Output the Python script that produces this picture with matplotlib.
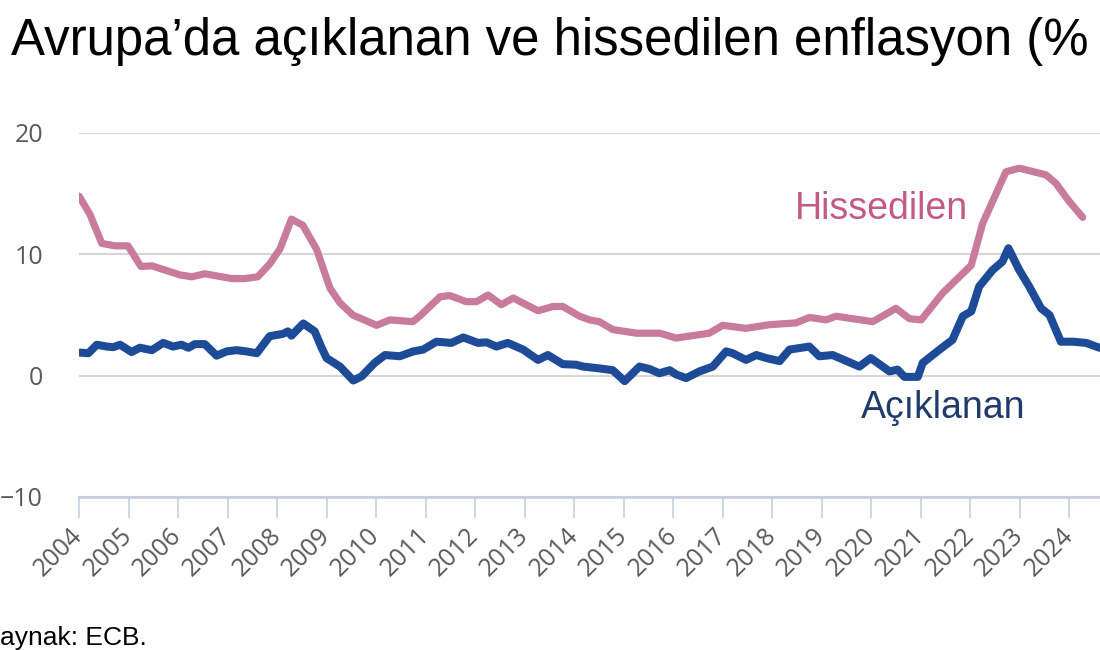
import matplotlib
matplotlib.use("Agg")
import matplotlib.pyplot as plt

# Perceived inflation (Hissedilen), decimal year / %
perc_t = [2004.00, 2004.22, 2004.46, 2004.73, 2004.99, 2005.25, 2005.47, 2005.74, 2006.04, 2006.28,
          2006.54, 2006.81, 2007.09, 2007.35, 2007.61, 2007.85, 2008.06, 2008.29, 2008.52, 2008.80,
          2009.07, 2009.27, 2009.53, 2010.01, 2010.28, 2010.74, 2010.88, 2011.29, 2011.49, 2011.82,
          2012.03, 2012.26, 2012.53, 2012.77, 2013.27, 2013.57, 2013.77, 2014.11, 2014.31, 2014.51,
          2014.78, 2015.26, 2015.73, 2016.06, 2016.73, 2017.00, 2017.47, 2017.94, 2018.48, 2018.75,
          2019.09, 2019.29, 2020.03, 2020.50, 2020.77, 2021.01, 2021.44, 2022.02, 2022.25, 2022.72,
          2022.99, 2023.53, 2023.73, 2024.00, 2024.27]
perc_v = [14.8, 13.3, 10.9, 10.7, 10.7, 9.0, 9.05, 8.7, 8.3, 8.15,
          8.4, 8.2, 8.0, 8.0, 8.15, 9.2, 10.45, 12.9, 12.4, 10.4,
          7.2, 6.0, 5.0, 4.15, 4.6, 4.45, 4.9, 6.5, 6.6, 6.1,
          6.1, 6.65, 5.85, 6.4, 5.35, 5.7, 5.7, 4.9, 4.6, 4.45,
          3.8, 3.5, 3.5, 3.1, 3.5, 4.15, 3.9, 4.2, 4.35, 4.8,
          4.6, 4.9, 4.45, 5.55, 4.7, 4.6, 6.8, 9.1, 12.55, 16.8,
          17.1, 16.55, 15.85, 14.35, 13.05]

# Official inflation (Açıklanan), decimal year / %
off_t = [2004.02, 2004.19, 2004.36, 2004.56, 2004.69, 2004.83, 2005.06, 2005.23, 2005.47, 2005.70,
         2005.90, 2006.07, 2006.21, 2006.34, 2006.54, 2006.78, 2006.98, 2007.18, 2007.38, 2007.59,
         2007.85, 2008.12, 2008.22, 2008.29, 2008.53, 2008.76, 2008.90, 2009.00, 2009.27, 2009.54,
         2009.71, 2009.97, 2010.18, 2010.48, 2010.75, 2010.95, 2011.22, 2011.52, 2011.76, 2012.06,
         2012.23, 2012.43, 2012.66, 2012.97, 2013.27, 2013.47, 2013.77, 2014.04, 2014.18, 2014.51,
         2014.78, 2015.02, 2015.32, 2015.52, 2015.72, 2015.93, 2016.06, 2016.26, 2016.53, 2016.80,
         2017.07, 2017.20, 2017.47, 2017.68, 2017.88, 2018.15, 2018.35, 2018.75, 2018.95, 2019.22,
         2019.76, 2019.99, 2020.37, 2020.53, 2020.67, 2020.94, 2021.04, 2021.38, 2021.64, 2021.85,
         2022.02, 2022.18, 2022.45, 2022.65, 2022.77, 2022.99, 2023.19, 2023.43, 2023.60, 2023.83,
         2024.07, 2024.34, 2024.61]
off_v = [1.9, 1.85, 2.55, 2.4, 2.35, 2.55, 1.95, 2.3, 2.1, 2.7,
         2.4, 2.55, 2.3, 2.6, 2.6, 1.65, 2.0, 2.1, 2.0, 1.85,
         3.25, 3.45, 3.65, 3.3, 4.3, 3.65, 2.3, 1.45, 0.75, -0.4,
         -0.05, 1.05, 1.7, 1.6, 2.0, 2.15, 2.8, 2.7, 3.15, 2.7,
         2.75, 2.4, 2.7, 2.15, 1.3, 1.7, 0.95, 0.9, 0.75, 0.6,
         0.45, -0.45, 0.75, 0.55, 0.2, 0.45, 0.1, -0.2, 0.35, 0.75,
         2.0, 1.85, 1.3, 1.7, 1.45, 1.2, 2.15, 2.4, 1.6, 1.7,
         0.75, 1.45, 0.35, 0.5, -0.1, -0.1, 1.05, 2.15, 2.95, 4.9,
         5.3, 7.35, 8.7, 9.4, 10.5, 8.7, 7.35, 5.55, 5.0, 2.8,
         2.8, 2.7, 2.3]

years = list(range(2004, 2025))
yticks = [-10, 0, 10, 20]

# texts as visible in the (edge-cropped) reference
title = "Avrupa\u2019da açıklanan ve hissedilen enflasyon (%"
source = "aynak: ECB."

PINK = "#c97b9b"
BLUE = "#1d4b97"
TICK_GRAY = "#595959"
AXIS_BLUE = "#c6cfe0"

fig = plt.figure(figsize=(11, 6.5), dpi=100)
ax = fig.add_axes([79 / 1100, 1 - 497 / 650, 1 - 79 / 1100, (497 - 133) / 650])

ax.plot(perc_t, perc_v, color=PINK, lw=5.2, solid_joinstyle="round", solid_capstyle="round", zorder=3)
ax.plot(off_t, off_v, color=BLUE, lw=5.8, solid_joinstyle="round", solid_capstyle="round", zorder=4)

ax.set_xlim(2004, 2024.62)
ax.set_ylim(-10, 20)

ax.set_yticks(yticks)
ax.set_xticks(years)
ax.set_xticklabels([str(y) for y in years], rotation=45, ha="right", va="center",
                   rotation_mode="anchor")
for s in ["top", "right", "left"]:
    ax.spines[s].set_visible(False)
ax.spines["bottom"].set_color(AXIS_BLUE)
ax.spines["bottom"].set_linewidth(2)
ax.grid(axis="y", color="#d6d6d6", lw=1.5, zorder=0)
ax.tick_params(axis="y", length=0, pad=26, labelsize=18, labelcolor=TICK_GRAY)
ax.tick_params(axis="x", length=15, width=1.2, color=AXIS_BLUE, pad=10, labelsize=18, labelcolor=TICK_GRAY)
for lab in ax.get_yticklabels() + ax.get_xticklabels():
    lab.set_family("Open Sans")

ax.text(2020.2, 12.9, "Hissedilen", color="#c45a83", fontsize=27, family="Liberation Sans",
        ha="center", va="baseline")
ax.text(2021.45, -3.45, "Açıklanan", color="#1f3b6c", fontsize=27, family="Liberation Sans",
        ha="center", va="baseline")

fig.text(11 / 1100, 1 - 55 / 650, title, fontsize=36.7, family="Liberation Sans", color="black",
         ha="left", va="baseline")
fig.text(0.5 / 1100, 1 - 645 / 650, source, fontsize=19, family="Liberation Sans", color="black",
         ha="left", va="baseline")

fig.savefig("out.png", dpi=100)
